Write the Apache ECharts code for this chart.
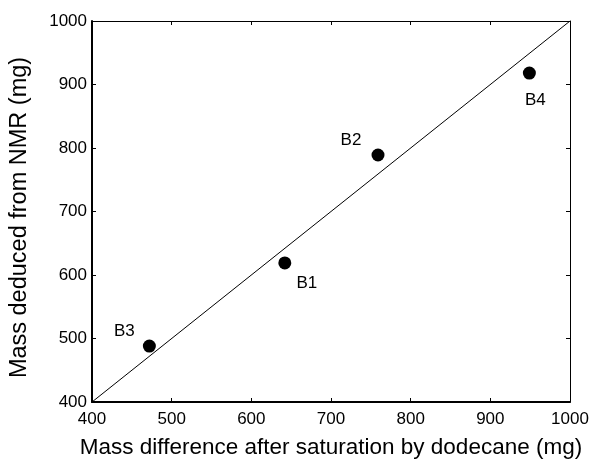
<!DOCTYPE html>
<html><head><meta charset="utf-8">
<script src="https://cdn.jsdelivr.net/npm/echarts@6/dist/echarts.min.js"></script>
<style>html,body{margin:0;padding:0;background:#fff}#c{width:592px;height:464px}</style>
</head><body><div id="c"></div>
<script>
const sampleNames = ['B1', 'B2', 'B3', 'B4'];
const massDifference = [642, 759, 472, 949];
const massNMR = [619, 789, 488, 918];
const xTicks = [400, 500, 600, 700, 800, 900, 1000];
const yTicks = [400, 500, 600, 700, 800, 900, 1000];
const identityLine = [[400, 400], [1000, 1000]];

const labelOffsets = {B1: [22, 20], B2: [-27, -15], B3: [-25, -15], B4: [6, 27]};
const font = 'Liberation Sans, Arial, sans-serif';

const chart = echarts.init(document.getElementById('c'));
const axisCommon = {
  type: 'value', min: xTicks[0], max: xTicks[xTicks.length - 1], interval: xTicks[1] - xTicks[0],
  splitLine: {show: false},
  axisTick: {inside: true, length: 4, lineStyle: {color: '#000', width: 1}},
};
const yCommon = Object.assign({}, axisCommon, {
  min: yTicks[0], max: yTicks[yTicks.length - 1], interval: yTicks[1] - yTicks[0]
});
chart.setOption({
  animation: false,
  grid: {left: 92, right: 22, top: 21, bottom: 56},
  xAxis: [
    Object.assign({}, axisCommon, {
      position: 'bottom',
      axisLine: {lineStyle: {color: '#000', width: 2}},
      axisLabel: {color: '#000', fontSize: 17, fontFamily: font, margin: 9, formatter: v => String(v)},
      name: 'Mass difference after saturation by dodecane (mg)',
      nameLocation: 'middle', nameGap: 34,
      nameTextStyle: {color: '#000', fontSize: 22.5, fontFamily: font}
    }),
    Object.assign({}, axisCommon, {
      position: 'top',
      axisLine: {lineStyle: {color: '#000', width: 1}},
      axisLabel: {show: false}
    })
  ],
  yAxis: [
    Object.assign({}, yCommon, {
      position: 'left',
      axisLine: {lineStyle: {color: '#000', width: 2}},
      axisLabel: {color: '#000', fontSize: 17, fontFamily: font, margin: 5, formatter: v => String(v)},
      name: 'Mass deduced from NMR (mg)',
      nameLocation: 'middle', nameGap: 60,
      nameTextStyle: {color: '#000', fontSize: 23.5, fontFamily: font, padding: [0, 12, 0, 0]}
    }),
    Object.assign({}, yCommon, {
      position: 'right',
      axisLine: {lineStyle: {color: '#000', width: 1}},
      axisLabel: {show: false}
    })
  ],
  series: [
    {
      type: 'line', data: identityLine, symbol: 'none',
      lineStyle: {color: '#000', width: 1}, z: 1
    },
    {
      type: 'scatter', symbol: 'circle', symbolSize: 13,
      itemStyle: {color: '#000', opacity: 1},
      data: sampleNames.map((n, i) => ({
        name: n, value: [massDifference[i], massNMR[i]],
        label: {show: true, position: 'inside', offset: labelOffsets[n], formatter: '{b}',
          color: '#000', fontSize: 17, fontFamily: font}
      })),
      z: 3
    }
  ]
});
</script></body></html>
